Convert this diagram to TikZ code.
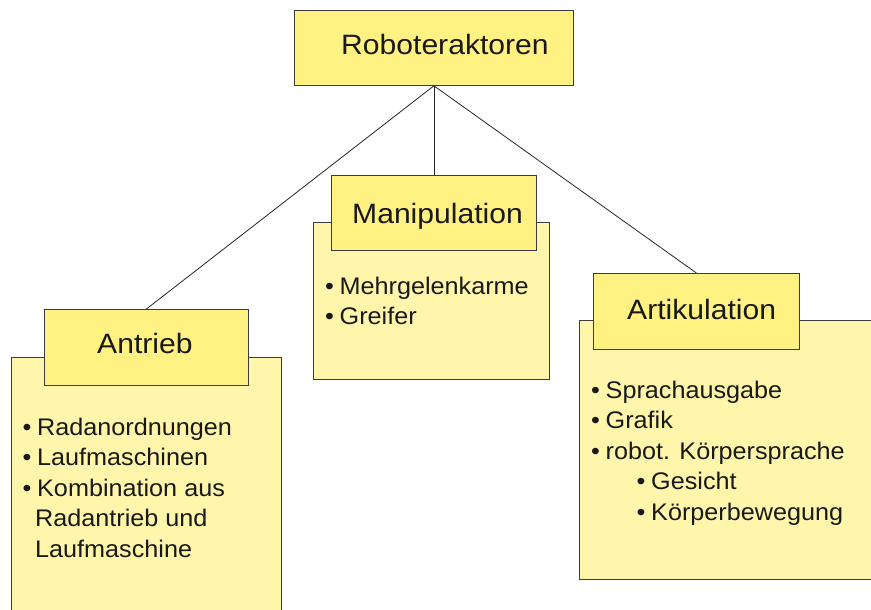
\documentclass[tikz,border=0pt]{standalone}
\usepackage{fontspec}
\setmainfont{Liberation Sans}
\newfontfamily\headfont[FakeStretch=1.075]{Liberation Sans}
\newfontfamily\listfont[FakeStretch=1.05]{Liberation Sans}
\definecolor{headfill}{RGB}{255,241,130}
\definecolor{bodyfill}{RGB}{255,246,172}
\definecolor{edge}{RGB}{60,60,60}
\newcommand{\bul}{\makebox[14.5pt][l]{•}}
\newcommand{\cont}{\hspace{12.5pt}}
\begin{document}
\begin{tikzpicture}[x=1pt,y=-1pt,
  headbox/.style={draw=edge,line width=0.8pt,fill=headfill,inner sep=0pt,minimum width=#1},
  bodybox/.style={draw=edge,line width=0.8pt,fill=bodyfill,inner sep=0pt},
  headtext/.style={anchor=base west,inner sep=0pt,font=\headfont\fontsize{28}{34}\selectfont,text=black!90},
  listtext/.style={anchor=north west,inner sep=0pt,align=left,font=\listfont\fontsize{24}{30.5}\selectfont,text=black!90},
  link/.style={draw=black!85,line width=0.8pt}]
\useasboundingbox (0,0) rectangle (871,610);
\fill[white] (0,0) rectangle (871,610);

% content panels behind the headings
\node[bodybox,minimum width=270pt,minimum height=280pt,anchor=north west] (antriebbody) at (11,357) {};
\node[bodybox,minimum width=236pt,minimum height=157pt,anchor=north west] (manibody) at (313,222) {};
\node[bodybox,minimum width=300pt,minimum height=259pt,anchor=north west] (artibody) at (579,320) {};

% heading boxes
\node[headbox=279pt,minimum height=75pt,anchor=north west] (root) at (294,10) {};
\node[headbox=204pt,minimum height=76pt,anchor=north west] (antrieb) at (44,309) {};
\node[headbox=205pt,minimum height=75pt,anchor=north west] (mani) at (331,175) {};
\node[headbox=206pt,minimum height=76pt,anchor=north west] (arti) at (593,273) {};

% connectors
\draw[link] (root.south) -- (antrieb.north);
\draw[link] (root.south) -- (mani.north);
\draw[link] (root.south) -- (arti.north);

% heading labels
\node[headtext] (rootlabel) at (341,55) {Roboteraktoren};
\node[headtext] (antrieblabel) at (97,353) {Antrieb};
\node[headtext] (manilabel) at (352,223) {Manipulation};
\node[headtext] (artilabel) at (627,319) {Artikulation};

% item lists
\node[listtext] (antrieblist) at (22.5,417.5) {\bul Radanordnungen\\ \bul Laufmaschinen\\ \bul Kombination aus\\ \cont Radantrieb und\\ \cont Laufmaschine};
\node[listtext] (manilist) at (325,276.5) {\bul Mehrgelenkarme\\ \bul Greifer};
\node[listtext] (artilist) at (591,380.5) {\bul Sprachausgabe\\ \bul Grafik\\ \bul robot. Körpersprache\\ \hspace{45.5pt}\bul Gesicht\\ \hspace{45.5pt}\bul Körperbewegung};
\end{tikzpicture}
\end{document}
